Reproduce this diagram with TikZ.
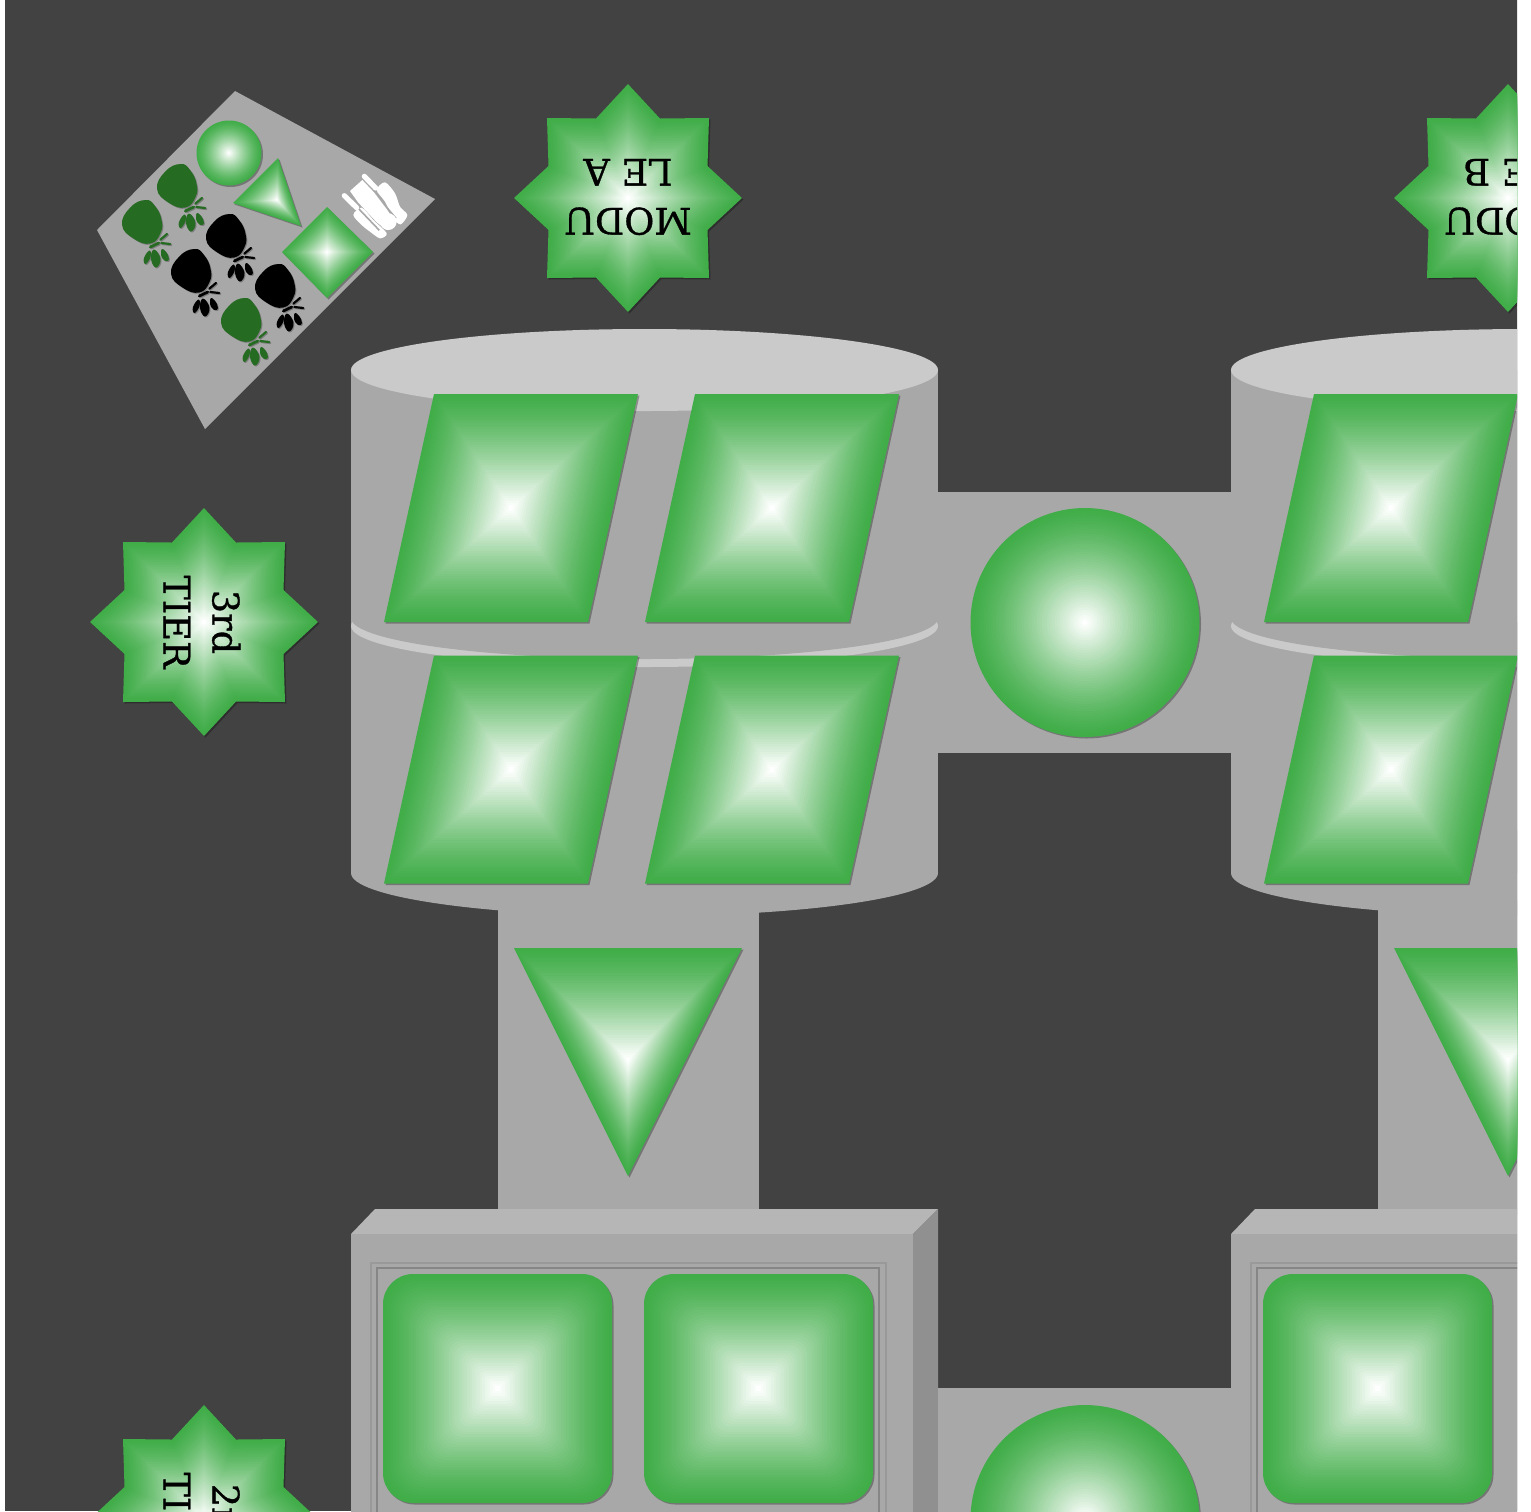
\documentclass[tikz,border=0pt]{standalone}
\usepackage{fontspec}
\setmainfont{DejaVu Serif}
\newfontfamily\labfont{DejaVu Serif}[RawFeature={embolden=0.9}]
\definecolor{bgdark}{HTML}{424242}
\definecolor{bodygray}{HTML}{A8A8A8}
\definecolor{capgray}{HTML}{CACACA}
\definecolor{topgray}{HTML}{B6B6B6}
\definecolor{sidegray}{HTML}{909090}
\definecolor{gedge}{HTML}{41AD49}
\definecolor{bulbgreen}{HTML}{256B22}
\tikzset{
  labeltext/.style={font=\labfont\fontsize{18.3}{24.5}\selectfont,align=center,text=black,inner sep=0pt},
  bodyfill/.style={fill=bodygray},
  capfill/.style={fill=capgray}
}
\newcommand\burst[3]{%
  \fill[black,opacity=.3,shift={(#1+1.5,#2+1.5)}] #3;
  \foreach \i in {0,...,44}{%
    \pgfmathsetmacro\pc{100*(1-(\i/44)^1.3)}%
    \pgfmathsetmacro\sc{1-\i/45}%
    \fill[gedge!\pc!white,shift={(#1,#2)},scale=\sc] #3;
  }%
}
\def\pStar{(0,-114) -- (32,-79.5) -- (81,-80) -- (79.5,-32) -- (114,0) -- (79.5,32) -- (81,80) -- (32,79.5) -- (0,114) -- (-32,79.5) -- (-81,80) -- (-79.5,32) -- (-114,0) -- (-79.5,-32) -- (-81,-80) -- (-32,-79.5) -- cycle}
\def\pPara{(-77,-114) -- (127,-114) -- (77,114) -- (-127,114) -- cycle}
\def\pTri{(-114,-112) -- (114,-112) -- (0,116) -- cycle}
\def\pBigCirc{(0,0) circle [radius=114.5]}
\def\pSmCirc{(0,0) circle [radius=32.5]}
\def\pRound{(-84.5,-114.5) -- (84.5,-114.5) .. controls (101,-114.5) and (114.5,-101) .. (114.5,-84.5) -- (114.5,84.5) .. controls (114.5,101) and (101,114.5) .. (84.5,114.5) -- (-84.5,114.5) .. controls (-101,114.5) and (-114.5,101) .. (-114.5,84.5) -- (-114.5,-84.5) .. controls (-114.5,-101) and (-101,-114.5) .. (-84.5,-114.5) -- cycle}
\def\pLegTri{(1,-42) -- (-44,3) -- (24,26) -- cycle}
\def\pLegDia{(0,-45) -- (46,0) -- (0,46) -- (-45,0) -- cycle}
\newcommand\bulb[3]{%
  \begin{scope}[shift={(#1,#2)}]
    \foreach \dx/\col/\op in {1/black/.25,0/#3/1}{%
      \begin{scope}[shift={(\dx,\dx)}]
      \fill[\col,opacity=\op] plot[smooth cycle,tension=.8] coordinates {(3.3,-23) (-11.7,-15.5) (-20,1.7) (-8.5,15.5) (8.3,20.5) (18.5,10) (19.5,-3.3) (13,-17)};
      \draw[\col,opacity=\op,line width=1.4pt,line cap=round] (8.3,24) -- (16.7,20);
      \draw[\col,opacity=\op,line width=1.1pt,line cap=round] (18.3,16.7) -- (25,11);
      \draw[\col,opacity=\op,line width=1.1pt,line cap=round] (19.3,20) -- (28.3,21);
      \fill[\col,opacity=\op] plot[smooth cycle,tension=.8] coordinates {(12,26.5) (18.5,36) (14,44.5) (9,36)};
      \fill[\col,opacity=\op] plot[smooth cycle,tension=.8] coordinates {(7.5,27.5) (8.5,34) (3.5,41) (2,35)};
      \fill[\col,opacity=\op] plot[smooth cycle,tension=.8] coordinates {(20,26) (26,32) (26,38) (20,35)};
      \end{scope}
    }
  \end{scope}%
}
\begin{document}
\begin{tikzpicture}[x=.5pt,y=-.5pt]
\useasboundingbox (0,0) rectangle (1531,1511);
\begin{scope}
\clip (5,0) rectangle (1517,1511);
\fill[bgdark] (0,0) rectangle (1531,1511);

% legend
\fill[bodygray] (235,91) -- (435,199) -- (205,429) -- (97,230) -- cycle;
\burst{229}{153}{\pSmCirc}
\burst{277}{200}{\pLegTri}
\burst{327}{252}{\pLegDia}
\bulb{177}{187}{bulbgreen}
\bulb{142}{223}{bulbgreen}
\bulb{226}{237}{black}
\bulb{191}{272}{black}
\bulb{275}{287}{black}
\bulb{241}{321}{bulbgreen}
% legend people icon
\begin{scope}[shift={(330,165)},scale=1/3]
  \fill[white] plot[smooth cycle,tension=.5] coordinates {(140,75) (165,52) (195,85) (210,125) (232,150) (212,178) (190,160) (165,110)};
  \fill[white] plot[smooth cycle,tension=.5] coordinates {(70,150) (95,128) (130,165) (170,205) (150,220) (120,200) (95,180)};
  \draw[bodygray,line width=.8pt] (134,84) -- (198,160);
  \draw[bodygray,line width=.8pt] (82,127) -- (148,196);
  \fill[white] (60,78) -- (97,45) -- (132,82) -- (172,135) -- (195,170) -- (170,195) -- (140,172) -- (85,113) -- cycle;
  \fill[white] (175,170) circle [radius=25];
  \draw[white,line width=2.6pt,line cap=round] (103,34) -- (137,69);
  \draw[white,line width=2.6pt,line cap=round] (43,92) -- (80,128);
\end{scope}

\foreach \o in {0,880}{%
  \begin{scope}[xshift=\o*.5pt]
    % connectors
    \fill[bodygray] (498,900) rectangle (759,1215);
    % cylinder
    \fill[bodyfill] (351,370) rectangle (938,873);
    \fill[bodyfill] (644.5,873) ellipse [x radius=293.5,y radius=43];
    \fill[capfill] (644.5,370) ellipse [x radius=293.5,y radius=41];
    \begin{scope}
      \clip (351,622) rectangle (938,680);
      \fill[capfill] (644.5,626) ellipse [x radius=293.5,y radius=41];
      \fill[bodyfill] (644.5,618) ellipse [x radius=293.5,y radius=41];
    \end{scope}
    % cuboid
    \fill[topgray] (351,1234) -- (375,1209) -- (938,1209) -- (913,1234) -- cycle;
    \fill[sidegray] (913,1234) -- (938,1209) -- (938,1600) -- (913,1600) -- cycle;
    \fill[bodygray] (351,1234) rectangle (913,1600);
    \draw[black!9!bodygray,line width=1.2pt] (371,1600) -- (371,1263) -- (886,1263) -- (886,1600);
    \draw[black!20!bodygray,line width=.8pt] (377,1600) -- (377,1268) -- (879,1268) -- (879,1600);
    % contents
    \burst{511}{508}{\pPara}
    \burst{772}{508}{\pPara}
    \burst{511}{769.5}{\pPara}
    \burst{772}{769.5}{\pPara}
    \burst{628}{1060}{\pTri}
    \burst{497.5}{1388.5}{\pRound}
    \burst{758.5}{1388.5}{\pRound}
    \burst{628}{198}{\pStar}
  \end{scope}
}
\fill[bodygray] (938,492) rectangle (1231,753);
\fill[bodygray] (938,1388) rectangle (1231,1700);
\burst{1085}{622.5}{\pBigCirc}
\burst{1085}{1519.5}{\pBigCirc}
\burst{204}{622}{\pStar}
\burst{204}{1519}{\pStar}

\node[labeltext,rotate=180] (moduleA) at (628,197) {MODU\\LE A};
\node[labeltext,rotate=180] (moduleB) at (1508,197) {MODU\\LE B};
\node[labeltext,rotate=-90] (tierThree) at (202,622) {3rd\\TIER};
\node[labeltext,rotate=-90] (tierTwo) at (202,1519) {2nd\\TIER};
\end{scope}
\end{tikzpicture}
\end{document}
